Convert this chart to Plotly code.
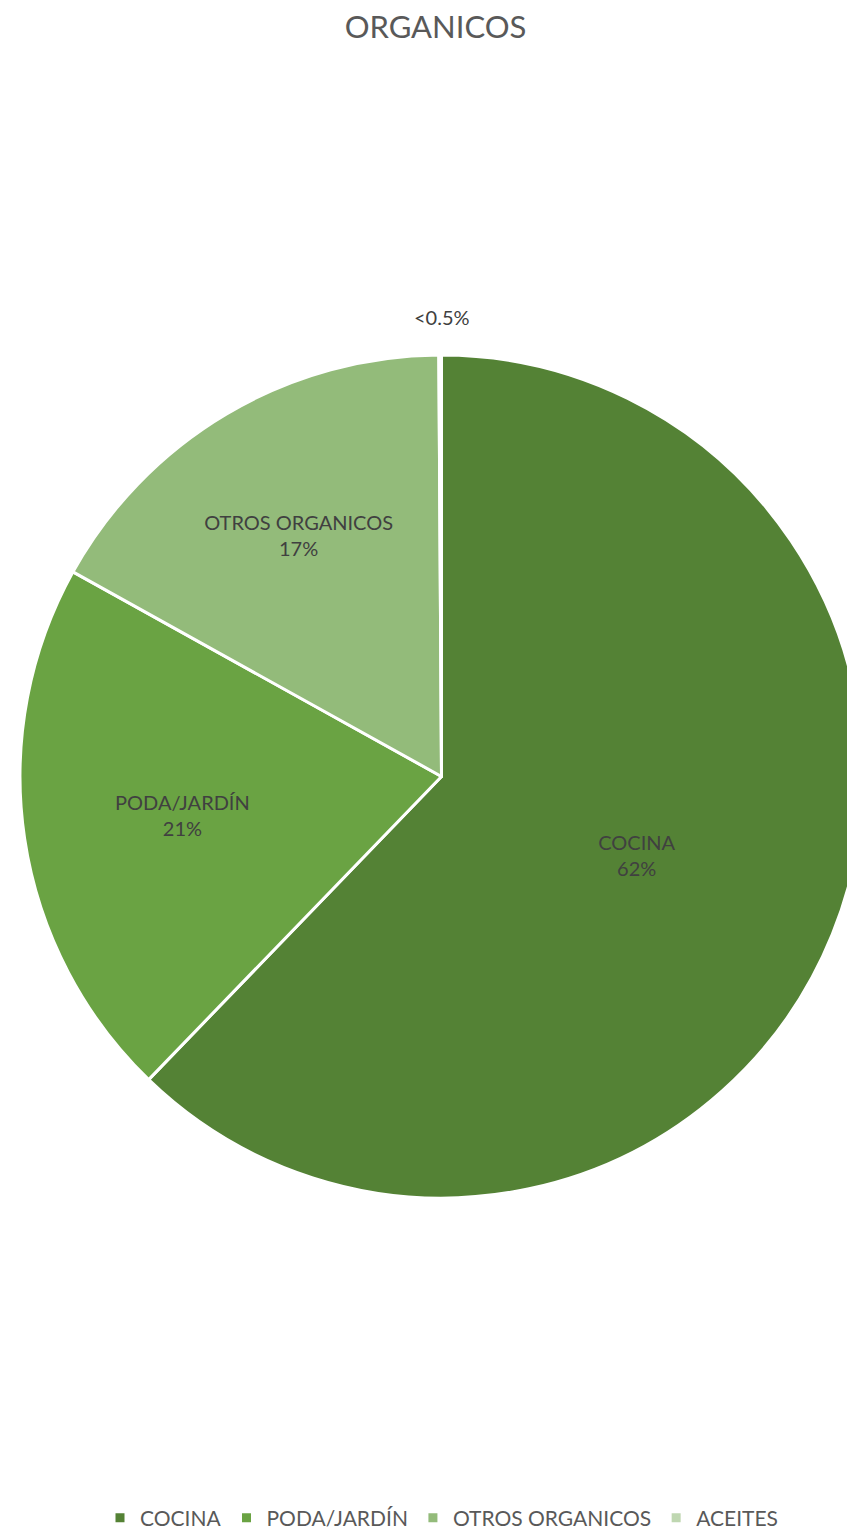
import plotly.graph_objects as go

categories = ["COCINA", "PODA/JARDÍN", "OTROS ORGANICOS", "ACEITES"]
values = [62.1, 20.8, 16.8, 0.1]
pct_labels = ["62%", "21%", "17%", "<0.5%"]
colors = ["#548235", "#6aa343", "#93bb7a", "#bfd7b1"]

texts = [f"{c}<br>{p}" for c, p in zip(categories[:3], pct_labels[:3])] + [""]

W, H = 855, 1531
FONT = "Lato, Open Sans, sans-serif"
dom_y = [(H - 1200) / H, (H - 346) / H]

fig = go.Figure(go.Pie(
    labels=categories,
    values=values,
    text=texts,
    textinfo="text",
    hoverinfo="label+percent",
    sort=False,
    direction="clockwise",
    rotation=0,
    marker=dict(colors=colors, line=dict(color="white", width=3)),
    textposition=["inside", "inside", "inside", "none"],
    insidetextorientation="horizontal",
    textfont=dict(family=FONT, size=20, color="#404040"),
    domain=dict(x=[0, 1], y=dom_y),
))

# label for the tiny ACEITES slice, placed just above the top of the pie
fig.add_annotation(
    text=pct_labels[3], xref="paper", yref="paper",
    x=0.5, y=(H - 311) / H, xanchor="center", yanchor="middle",
    showarrow=False, font=dict(family=FONT, size=20, color="#404040"),
)

fig.update_layout(
    width=W, height=H,
    autosize=False,
    margin=dict(l=12, r=0, t=0, b=0),
    paper_bgcolor="white",
    plot_bgcolor="white",
    title=dict(text="ORGANICOS", x=0.5, xanchor="center", y=1 - 19 / H, yanchor="middle",
               font=dict(family=FONT, size=31, color="#595959")),
    showlegend=True,
    legend=dict(orientation="h", x=0.5, xanchor="center", y=(H - 1519) / H, yanchor="middle",
                font=dict(family=FONT, size=21, color="#595959"),
                itemwidth=30, traceorder="normal"),
)

fig.write_html("out.html")
